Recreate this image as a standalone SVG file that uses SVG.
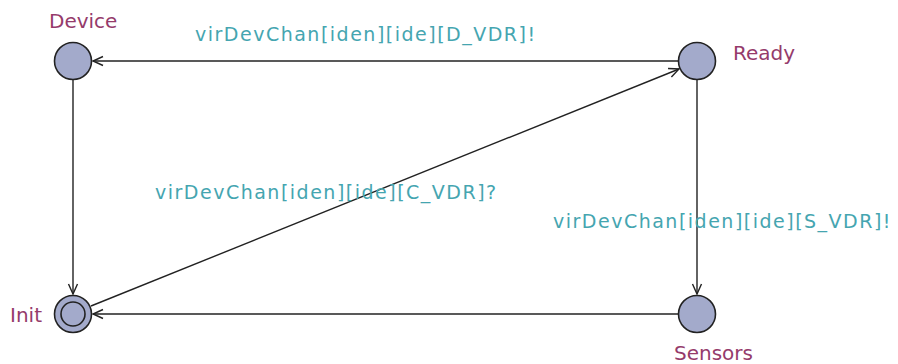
<svg xmlns="http://www.w3.org/2000/svg" width="898" height="364" viewBox="0 0 898 364">
<style>
.node{fill:#a3aacb;stroke:#222;stroke-width:1.6}
.nl{font-family:"DejaVu Sans",sans-serif;font-size:20px;fill:#953b6b}
.el{font-family:"DejaVu Sans",sans-serif;font-size:19px;letter-spacing:1.5px;fill:#45a5b0}
.edge{stroke:#222;stroke-width:1.4;fill:none;marker-end:url(#arr)}
</style>
<defs>
<marker id="arr" viewBox="-12 -6 14 12" refX="0" refY="0" markerWidth="14" markerHeight="12" markerUnits="userSpaceOnUse" orient="auto">
<path d="M-10,-4.5 L0,0 L-10,4.5" fill="none" stroke="#222" stroke-width="1.4"/>
</marker>
</defs>
<rect width="898" height="364" fill="#fff"/>
<g id="edges">
<line class="edge" x1="679" y1="61" x2="93" y2="61"/>
<line class="edge" x1="73" y1="80" x2="73" y2="294"/>
<line class="edge" x1="91" y1="306" x2="679" y2="69"/>
<line class="edge" x1="697" y1="80" x2="697" y2="294"/>
<line class="edge" x1="679" y1="314" x2="93" y2="314"/>
<text class="el" x="195" y="41">virDevChan[iden][ide][D_VDR]!</text>
<text class="el" x="155" y="199">virDevChan[iden][ide][C_VDR]?</text>
<text class="el" x="553" y="228">virDevChan[iden][ide][S_VDR]!</text>
</g>
<g id="Device">
<circle class="node" cx="73" cy="61" r="18.5"/>
<text class="nl" x="49" y="28">Device</text>
</g>
<g id="Ready">
<circle class="node" cx="697" cy="61" r="18.5"/>
<text class="nl" x="733" y="60">Ready</text>
</g>
<g id="Init">
<circle class="node" cx="73" cy="314" r="18.5"/>
<circle class="node" cx="73" cy="314" r="12"/>
<text class="nl" x="10" y="322">Init</text>
</g>
<g id="Sensors">
<circle class="node" cx="697" cy="314" r="18.5"/>
<text class="nl" x="674" y="360">Sensors</text>
</g>
</svg>
